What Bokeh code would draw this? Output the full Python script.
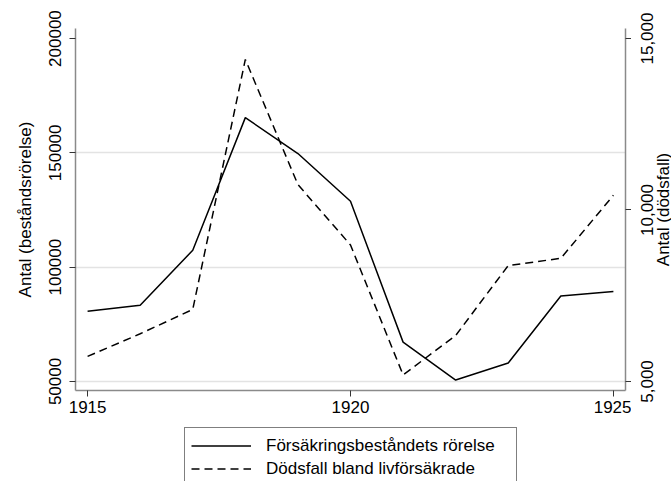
from bokeh.plotting import figure
from bokeh.layouts import column, row
from bokeh.models import (Range1d, LinearAxis, FixedTicker, NumeralTickFormatter,
                          Legend, LegendItem, ColumnDataSource)
from bokeh.embed import file_html
from bokeh.resources import INLINE

# ---- data ----
years = [1915, 1916, 1917, 1918, 1919, 1920, 1921, 1922, 1923, 1924, 1925]
bestand = [80700, 83300, 107400, 165400, 149700, 128800, 67200, 50600, 58100, 87400, 89300]
dodsfall = [5730, 6390, 7100, 14390, 10740, 8980, 5190, 6340, 8380, 8590, 10430]
x_ticks = [1915, 1920, 1925]
left_ticks = [50000, 100000, 150000, 200000]
right_ticks = [5000, 10000, 15000]
grid_ticks = [50000, 100000, 150000]
left_title = "Antal (beståndsrörelse)"
right_title = "Antal (dödsfall)"
labels = ["Försäkringsbeståndets rörelse", "Dödsfall bland livförsäkrade"]

FONT = "Liberation Sans"
FS = "17px"
AXIS_COLOR = "#8a8a8a"
TICK_COLOR = "#333333"

src = ColumnDataSource(dict(x=years, a=bestand, d=dodsfall))
x_range = Range1d(1914.77, 1925.23)
y_left = Range1d(46040, 204400)
y_right = Range1d(4736, 15293)

TOP, BOTTOM = 28, 35

# ---------------- main chart ----------------
p = figure(width=631, height=425, output_backend="svg", toolbar_location=None,
           x_range=x_range, y_range=y_left,
           min_border_left=75, min_border_right=6, min_border_top=TOP,
           min_border_bottom=BOTTOM)
p.extra_y_ranges = {"right": y_right}
p.outline_line_color = None
p.background_fill_color = "white"
p.border_fill_color = "white"

xa = p.xaxis[0]
xa.ticker = FixedTicker(ticks=x_ticks)
ya = p.yaxis[0]
ya.ticker = FixedTicker(ticks=left_ticks)
ya.formatter = NumeralTickFormatter(format="0")
ya.axis_label = left_title
ya.major_label_orientation = "vertical"
# right axis: line and ticks only (its labels are set in the strip to the right)
ra = LinearAxis(y_range_name="right", ticker=FixedTicker(ticks=right_ticks))
ra.major_label_text_color = None
ra.major_label_text_font_size = FS
ra.major_label_standoff = -30
p.add_layout(ra, "right")

for ax in (xa, ya, ra):
    ax.axis_line_color = AXIS_COLOR
    ax.axis_line_width = 1.5
    ax.major_tick_line_color = TICK_COLOR
    ax.major_tick_in = 0
    ax.major_tick_out = 6
    ax.minor_tick_line_color = None
for ax in (xa, ya):
    ax.major_label_text_font = FONT
    ax.major_label_text_font_size = FS
    ax.major_label_text_color = "black"
    ax.axis_label_text_font = FONT
    ax.axis_label_text_font_size = FS
    ax.axis_label_text_font_style = "normal"
    ax.axis_label_text_color = "black"
xa.major_label_standoff = 4
ya.major_label_standoff = 8
ya.axis_label_standoff = 12

p.xgrid.grid_line_color = None
p.ygrid.ticker = FixedTicker(ticks=grid_ticks)
p.ygrid.grid_line_color = "#e3e3e3"
p.ygrid.grid_line_width = 1.5

p.line("x", "a", source=src, line_color="black", line_width=1.5)
p.line("x", "d", source=src, y_range_name="right", line_color="black",
       line_width=1.5, line_dash="8 5")

# ------------- right strip: right-axis tick labels and title -------------
rf = figure(width=40, height=425, output_backend="svg", toolbar_location=None,
            x_range=Range1d(0, 1), y_range=y_right,
            x_axis_type=None, y_axis_type=None,
            min_border_left=39, min_border_right=0, min_border_top=TOP,
            min_border_bottom=BOTTOM)
rf.outline_line_color = None
rf.border_fill_color = "white"
rf.background_fill_color = "white"
rf.xgrid.visible = False
rf.ygrid.visible = False

title_axis = LinearAxis(ticker=FixedTicker(ticks=[]), axis_label=right_title)
label_axis = LinearAxis(ticker=FixedTicker(ticks=right_ticks),
                        formatter=NumeralTickFormatter(format="0,0"))
label_axis.major_label_orientation = "vertical"
for ax in (title_axis, label_axis):
    ax.axis_line_color = None
    ax.major_tick_line_color = None
    ax.minor_tick_line_color = None
    ax.major_tick_out = 0
    ax.major_tick_in = 0
    ax.major_label_text_font = FONT
    ax.major_label_text_font_size = FS
    ax.major_label_text_color = "black"
    ax.axis_label_text_font = FONT
    ax.axis_label_text_font_size = FS
    ax.axis_label_text_font_style = "normal"
    ax.axis_label_text_color = "black"
title_axis.axis_label_standoff = -2
title_axis.major_label_standoff = 0
label_axis.major_label_standoff = -3
rf.add_layout(title_axis, "left")
rf.add_layout(label_axis, "left")

# ---------------- legend strip ----------------
leg = figure(width=671, height=56, output_backend="svg", toolbar_location=None,
             x_range=Range1d(0, 1), y_range=Range1d(0, 1),
             x_axis_type=None, y_axis_type=None,
             min_border_left=75, min_border_right=46, min_border_top=0,
             min_border_bottom=0)
leg.outline_line_color = None
leg.xgrid.visible = False
leg.ygrid.visible = False
leg.border_fill_color = "white"
# legend keys: same series, outside this strip's view
k1 = leg.line("x", "a", source=src, line_color="black", line_width=1.5)
k2 = leg.line("x", "d", source=src, line_color="black", line_width=1.5,
              line_dash="8 5")

legend = Legend(items=[LegendItem(label=labels[0], renderers=[k1]),
                       LegendItem(label=labels[1], renderers=[k2])],
                location=(109, -6), orientation="vertical")
legend.label_text_font = FONT
legend.label_text_font_size = FS
legend.label_text_color = "black"
legend.glyph_width = 60
legend.glyph_height = 23
legend.label_height = 23
legend.label_width = 244
legend.label_standoff = 15
legend.padding = 6
legend.spacing = 0
legend.margin = 0
legend.border_line_color = "black"
legend.border_line_width = 1
legend.background_fill_alpha = 1
leg.add_layout(legend, "center")

page = column(row(p, rf, spacing=0), leg, spacing=0)
open("out.html", "w").write(file_html(page, INLINE))
